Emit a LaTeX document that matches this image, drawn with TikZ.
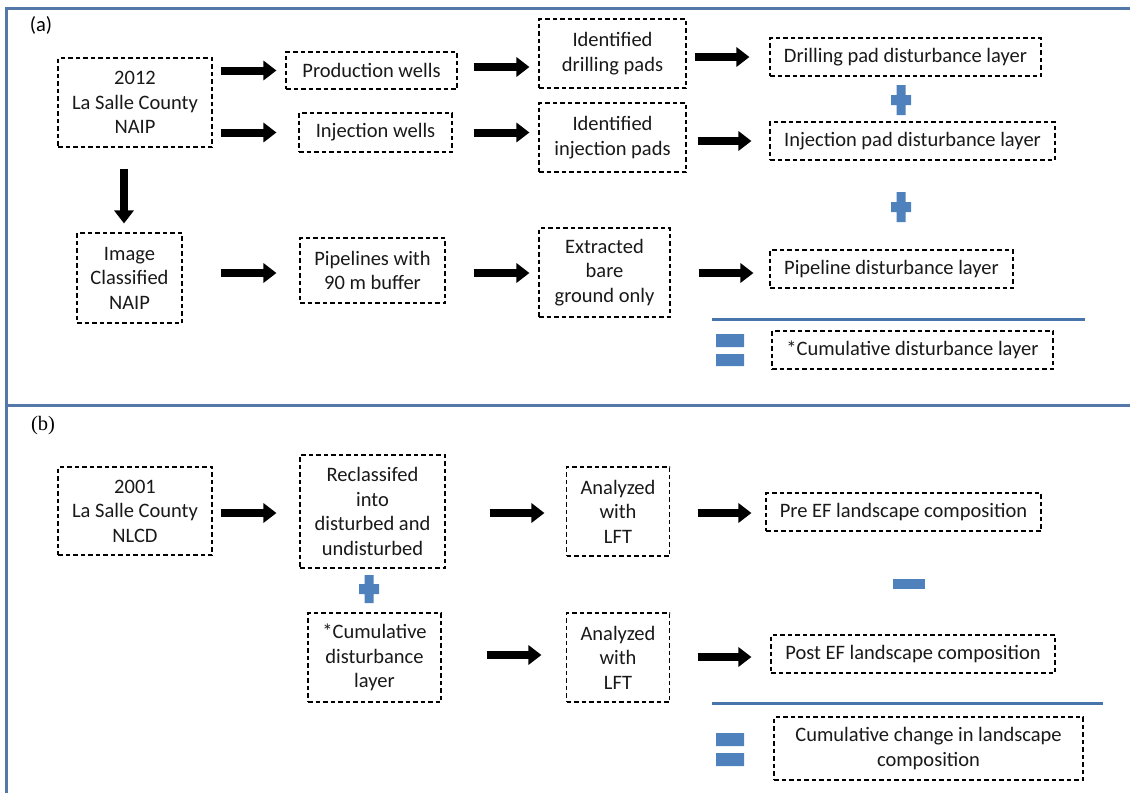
\documentclass[tikz,border=0pt]{standalone}
\usepackage{fontspec}
\setmainfont{Carlito}
\newfontfamily\seriffont{Liberation Serif}
\usetikzlibrary{arrows.meta}
\definecolor{frameblue}{RGB}{84,120,168}
\definecolor{opblue}{RGB}{79,129,189}
\begin{document}
\begin{tikzpicture}[x=1pt,y=-1pt,
  box/.style={draw, dash pattern=on 4.5pt off 3pt, line width=1.1pt, align=center, inner sep=0pt,
    font=\fontsize{20.5}{24.5}\selectfont, text=black!90},
  arr/.style={line width=8pt, -{Triangle[length=13pt,width=19pt]}},
  frameline/.style={draw=frameblue, line width=3pt},
  sepline/.style={draw=opblue!90!black, line width=3pt},
  lbl/.style={font=\fontsize{20.5}{24.5}\selectfont, inner sep=0pt}]
\useasboundingbox (0,0) rectangle (1130,793);
\fill[white] (0,0) rectangle (1130,793);
% frame
\draw[frameline] (1130,8) -- (6,8) -- (6,793);
\draw[frameline] (6,405) -- (1130,405);
\node[lbl] (la) at (41,25) {(a)};
\node[lbl, font=\fontsize{20.5}{24.5}\seriffont] (lb) at (43,426) {(b)};
% ---------------- panel (a)
\node[box, minimum width=154pt, minimum height=89pt] (n2012) at (135,102.5) {2012\\La Salle County\\NAIP};
\node[box, minimum width=171pt, minimum height=37pt] (prod) at (371.5,70.5) {Production wells};
\node[box, minimum width=153pt, minimum height=39pt] (inj) at (375.5,132.5) {Injection wells};
\node[box, minimum width=105pt, minimum height=90pt] (img) at (129.5,278) {Image\\Classified\\NAIP};
\node[box, minimum width=145pt, minimum height=65pt] (pipe) at (372.5,270.5) {Pipelines with\\90 m buffer};
\node[box, minimum width=147pt, minimum height=69pt] (idrill) at (612.5,53.5) {Identified\\drilling pads};
\node[box, minimum width=147pt, minimum height=69pt] (iinj) at (612.5,137.5) {Identified\\injection pads};
\node[box, minimum width=131pt, minimum height=89pt] (extr) at (604.5,272.5) {Extracted\\bare\\ground only};
\node[box, minimum width=271pt, minimum height=38pt] (ldrill) at (905.5,57) {Drilling pad disturbance layer};
\node[box, minimum width=285pt, minimum height=38pt] (linj) at (912.5,141) {Injection pad disturbance layer};
\node[box, minimum width=243pt, minimum height=38pt] (lpipe) at (891.5,269) {Pipeline disturbance layer};
\node[box, minimum width=281pt, minimum height=38pt] (lcum) at (912.5,350) {*Cumulative disturbance layer};
% arrows (a)
\draw[arr, shorten <=8pt, shorten >=9pt] (n2012.east |- prod.west) -- (prod.west);
\draw[arr, shorten <=8pt, shorten >=22pt] (n2012.east |- inj.west) -- (inj.west);
\draw[arr, shorten <=21pt, shorten >=9pt] ([xshift=-5.5pt]img.north |- n2012.south) -- ([xshift=-5.5pt]img.north);
\draw[arr, shorten <=38pt, shorten >=23pt] ([yshift=-2.5pt]img.east |- pipe.west) -- ([yshift=-2.5pt]pipe.west);
\draw[arr, shorten <=16pt, shorten >=9pt] ([yshift=3.5pt]prod.east) -- ([yshift=3.5pt]prod.east -| idrill.west);
\draw[arr, shorten <=21pt, shorten >=9pt] (inj.east) -- (inj.east -| iinj.west);
\draw[arr, shorten <=28pt, shorten >=9pt] ([yshift=-2.5pt]pipe.east) -- ([yshift=-2.5pt]pipe.east -| extr.west);
\draw[arr, shorten <=8pt, shorten >=20pt] (idrill.east |- ldrill.west) -- (ldrill.west);
\draw[arr, shorten <=11pt, shorten >=18pt] (iinj.east |- linj.west) -- (linj.west);
\draw[arr, shorten <=28pt, shorten >=16pt] ([yshift=-4pt]extr.east |- lpipe.west) -- ([yshift=-4pt]lpipe.west);
% operators (a)
\fill[opblue] (896.5,85) rectangle (905.5,115) (891,95) rectangle (911,105);
\fill[opblue] (896.5,192) rectangle (905.5,222) (891,202) rectangle (911,212);
\draw[sepline] (712,319) -- (1085,319);
\fill[opblue] (716,334) rectangle (744,347) (716,354) rectangle (744,366);
% ---------------- panel (b)
\node[box, minimum width=154pt, minimum height=88pt] (n2001) at (135,511) {2001\\La Salle County\\NLCD};
\node[box, minimum width=145pt, minimum height=113pt] (recl) at (372.5,511.5) {Reclassifed\\into\\disturbed and\\undisturbed};
\node[box, minimum width=133pt, minimum height=89pt] (bcum) at (374.5,657.5) {*Cumulative\\disturbance\\layer};
\node[box, minimum width=103pt, minimum height=89pt] (an1) at (618,511.5) {Analyzed\\with\\LFT};
\node[box, minimum width=103pt, minimum height=89pt] (an2) at (618,657.5) {Analyzed\\with\\LFT};
\node[box, minimum width=275pt, minimum height=38pt] (pre) at (903.5,512) {Pre EF landscape composition};
\node[box, minimum width=284pt, minimum height=38pt] (post) at (913,654) {Post EF landscape composition};
\node[box, minimum width=309pt, minimum height=63pt] (chg) at (928.5,748.5) {Cumulative change in landscape\\composition};
% arrows (b)
\draw[arr, shorten <=8pt, shorten >=23pt] ([yshift=-1.5pt]n2001.east |- recl.west) -- ([yshift=-1.5pt]recl.west);
\draw[arr, shorten <=44pt, shorten >=21.5pt] ([yshift=-1.5pt]recl.east) -- ([yshift=-1.5pt]recl.east -| an1.west);
\draw[arr, shorten <=45pt, shorten >=24.5pt] ([yshift=2.5pt]bcum.east) -- ([yshift=2.5pt]bcum.east -| an2.west);
\draw[arr, shorten <=27.5pt, shorten >=14pt] ([yshift=-1pt]an1.east |- pre.west) -- ([yshift=-1pt]pre.west);
\draw[arr, shorten <=27.5pt, shorten >=19pt] ([yshift=-3pt]an2.east |- post.west) -- ([yshift=-3pt]post.west);
% operators (b)
\fill[opblue] (364.5,575) rectangle (373.5,603) (359,584) rectangle (379,594);
\fill[opblue] (893,579) rectangle (925,589);
\draw[sepline] (712,703) -- (1103,703);
\fill[opblue] (716,733) rectangle (744,746) (716,753) rectangle (744,766);
\end{tikzpicture}
\end{document}
